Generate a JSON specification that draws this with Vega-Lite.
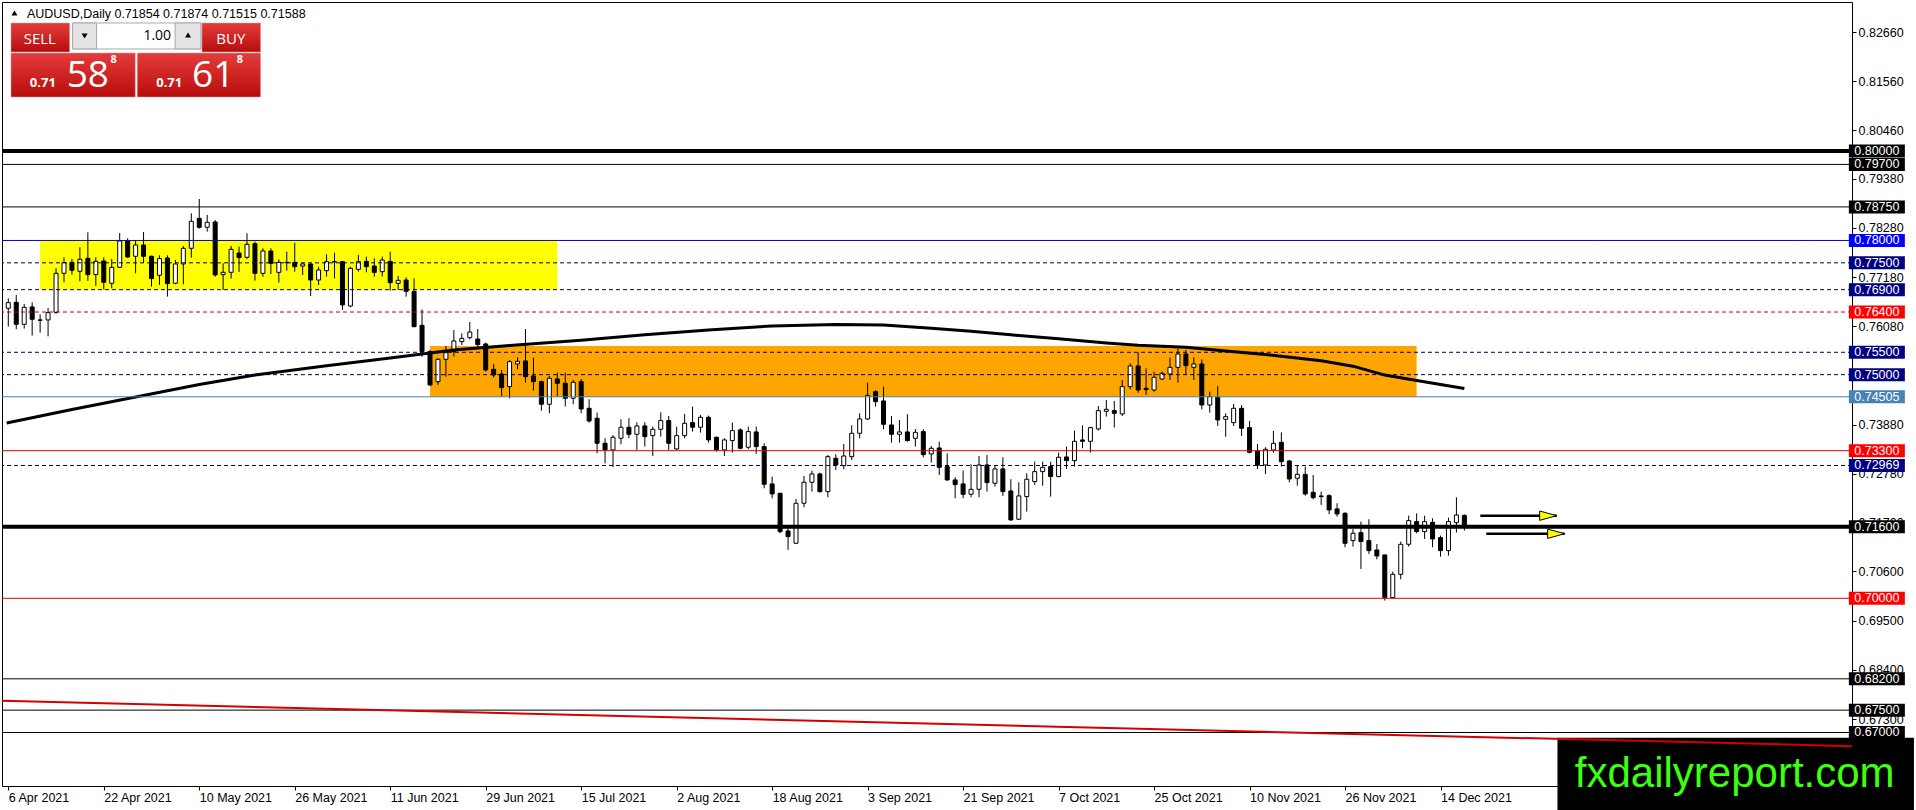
{
  "$schema": "https://vega.github.io/schema/vega-lite/v6.json",
  "width": 1850,
  "height": 784,
  "autosize": {"type": "none"},
  "padding": {"left": 2, "top": 2, "right": 64, "bottom": 24},
  "background": "white",
  "config": {
    "view": {"stroke": "black", "strokeWidth": 1},
    "axis": {"labelFont": "Liberation Sans", "labelFontSize": 12.5, "labelColor": "black", "tickColor": "black", "tickSize": 4, "domain": false, "grid": false},
    "text": {"font": "Liberation Sans"}
  },
  "datasets": {
    "candles": [
      {"i":0,"o":0.76484,"h":0.76707,"l":0.76074,"c":0.7661},
      {"i":1,"o":0.76618,"h":0.76782,"l":0.76014,"c":0.76126},
      {"i":2,"o":0.76126,"h":0.76581,"l":0.76029,"c":0.76506},
      {"i":3,"o":0.76514,"h":0.76618,"l":0.75873,"c":0.76238},
      {"i":4,"o":0.76223,"h":0.7635,"l":0.7594,"c":0.76216},
      {"i":5,"o":0.76223,"h":0.76491,"l":0.75858,"c":0.76387},
      {"i":6,"o":0.76394,"h":0.77378,"l":0.76357,"c":0.77266},
      {"i":7,"o":0.77266,"h":0.77624,"l":0.77065,"c":0.77504},
      {"i":8,"o":0.77512,"h":0.77586,"l":0.77236,"c":0.77333},
      {"i":9,"o":0.77311,"h":0.77847,"l":0.77087,"c":0.77579},
      {"i":10,"o":0.77601,"h":0.78182,"l":0.77095,"c":0.77236},
      {"i":11,"o":0.77236,"h":0.77624,"l":0.76983,"c":0.77534},
      {"i":12,"o":0.77542,"h":0.77624,"l":0.76908,"c":0.77065},
      {"i":13,"o":0.77043,"h":0.77586,"l":0.76931,"c":0.774},
      {"i":14,"o":0.774,"h":0.78167,"l":0.7739,"c":0.77989},
      {"i":15,"o":0.77989,"h":0.78048,"l":0.77609,"c":0.77631},
      {"i":16,"o":0.77646,"h":0.77996,"l":0.77266,"c":0.77899},
      {"i":17,"o":0.77899,"h":0.7819,"l":0.77504,"c":0.77646},
      {"i":18,"o":0.77646,"h":0.7766,"l":0.76968,"c":0.77147},
      {"i":19,"o":0.77221,"h":0.77668,"l":0.77005,"c":0.77594},
      {"i":20,"o":0.77609,"h":0.77668,"l":0.76745,"c":0.77035},
      {"i":21,"o":0.77043,"h":0.77564,"l":0.7702,"c":0.77475},
      {"i":22,"o":0.77475,"h":0.77877,"l":0.7702,"c":0.77825},
      {"i":23,"o":0.77825,"h":0.78607,"l":0.77616,"c":0.78428},
      {"i":24,"o":0.78495,"h":0.78927,"l":0.78264,"c":0.78294},
      {"i":25,"o":0.78294,"h":0.7857,"l":0.78197,"c":0.78406},
      {"i":26,"o":0.78413,"h":0.78458,"l":0.77192,"c":0.77229},
      {"i":27,"o":0.77236,"h":0.7749,"l":0.76893,"c":0.77288},
      {"i":28,"o":0.77288,"h":0.77877,"l":0.77147,"c":0.77802},
      {"i":29,"o":0.7772,"h":0.77862,"l":0.77296,"c":0.77616},
      {"i":30,"o":0.77624,"h":0.7816,"l":0.77586,"c":0.77914},
      {"i":31,"o":0.77929,"h":0.77974,"l":0.77102,"c":0.77266},
      {"i":32,"o":0.77265,"h":0.77824,"l":0.77191,"c":0.77765},
      {"i":33,"o":0.77764,"h":0.77824,"l":0.7725,"c":0.77489},
      {"i":34,"o":0.77287,"h":0.77578,"l":0.77056,"c":0.77511},
      {"i":35,"o":0.77503,"h":0.77749,"l":0.77325,"c":0.77511},
      {"i":36,"o":0.77511,"h":0.7795,"l":0.77302,"c":0.77414},
      {"i":37,"o":0.77429,"h":0.77503,"l":0.77228,"c":0.77474},
      {"i":38,"o":0.77474,"h":0.77489,"l":0.76758,"c":0.77116},
      {"i":39,"o":0.77116,"h":0.77414,"l":0.77004,"c":0.7734},
      {"i":40,"o":0.77325,"h":0.7769,"l":0.77191,"c":0.77526},
      {"i":41,"o":0.77526,"h":0.77727,"l":0.77153,"c":0.7752},
      {"i":42,"o":0.77526,"h":0.77541,"l":0.76445,"c":0.76559},
      {"i":43,"o":0.76535,"h":0.77414,"l":0.76505,"c":0.77377},
      {"i":44,"o":0.77354,"h":0.77675,"l":0.77302,"c":0.77526},
      {"i":45,"o":0.77533,"h":0.77638,"l":0.77287,"c":0.77414},
      {"i":46,"o":0.77429,"h":0.776,"l":0.77191,"c":0.77287},
      {"i":47,"o":0.77302,"h":0.77638,"l":0.77191,"c":0.77563},
      {"i":48,"o":0.77533,"h":0.77749,"l":0.76878,"c":0.77056},
      {"i":49,"o":0.77042,"h":0.77206,"l":0.76893,"c":0.77109},
      {"i":50,"o":0.77116,"h":0.77176,"l":0.76744,"c":0.76863},
      {"i":51,"o":0.76863,"h":0.77153,"l":0.7606,"c":0.76073},
      {"i":52,"o":0.76103,"h":0.7646,"l":0.75402,"c":0.75514},
      {"i":53,"o":0.75514,"h":0.75552,"l":0.74754,"c":0.74769},
      {"i":54,"o":0.74844,"h":0.75365,"l":0.74769,"c":0.75343},
      {"i":55,"o":0.75343,"h":0.75641,"l":0.74956,"c":0.75492},
      {"i":56,"o":0.75514,"h":0.75999,"l":0.75402,"c":0.75753},
      {"i":57,"o":0.75738,"h":0.75924,"l":0.75663,"c":0.75812},
      {"i":58,"o":0.75827,"h":0.76177,"l":0.7579,"c":0.75954},
      {"i":59,"o":0.75797,"h":0.76021,"l":0.75566,"c":0.75671},
      {"i":60,"o":0.75686,"h":0.75716,"l":0.75067,"c":0.75105},
      {"i":61,"o":0.75119,"h":0.75239,"l":0.74941,"c":0.74993},
      {"i":62,"o":0.75015,"h":0.75105,"l":0.74509,"c":0.7471},
      {"i":63,"o":0.74732,"h":0.75328,"l":0.74471,"c":0.75291},
      {"i":64,"o":0.75239,"h":0.75388,"l":0.7512,"c":0.75299},
      {"i":65,"o":0.75306,"h":0.76021,"l":0.74822,"c":0.74956},
      {"i":66,"o":0.74971,"h":0.75381,"l":0.74643,"c":0.74844},
      {"i":67,"o":0.74844,"h":0.74867,"l":0.74196,"c":0.74338},
      {"i":68,"o":0.74338,"h":0.74971,"l":0.74137,"c":0.74919},
      {"i":69,"o":0.74904,"h":0.75045,"l":0.74509,"c":0.74807},
      {"i":70,"o":0.74807,"h":0.75045,"l":0.74286,"c":0.74472},
      {"i":71,"o":0.74472,"h":0.74882,"l":0.74338,"c":0.74829},
      {"i":72,"o":0.74844,"h":0.74904,"l":0.74137,"c":0.74233},
      {"i":73,"o":0.74248,"h":0.74449,"l":0.73928,"c":0.73965},
      {"i":74,"o":0.74025,"h":0.74151,"l":0.73243,"c":0.73466},
      {"i":75,"o":0.73466,"h":0.73578,"l":0.73019,"c":0.73317},
      {"i":76,"o":0.73317,"h":0.73652,"l":0.7293,"c":0.736},
      {"i":77,"o":0.73578,"h":0.74003,"l":0.73444,"c":0.73824},
      {"i":78,"o":0.73824,"h":0.74025,"l":0.73578,"c":0.73667},
      {"i":79,"o":0.73667,"h":0.73936,"l":0.73317,"c":0.73854},
      {"i":80,"o":0.73854,"h":0.73936,"l":0.73392,"c":0.73615},
      {"i":81,"o":0.73637,"h":0.73839,"l":0.73183,"c":0.73779},
      {"i":82,"o":0.73779,"h":0.74159,"l":0.73615,"c":0.73973},
      {"i":83,"o":0.73973,"h":0.74077,"l":0.73317,"c":0.73466},
      {"i":84,"o":0.73339,"h":0.73839,"l":0.73317,"c":0.73637},
      {"i":85,"o":0.73637,"h":0.74122,"l":0.73578,"c":0.73913},
      {"i":86,"o":0.73928,"h":0.74286,"l":0.73727,"c":0.73824},
      {"i":87,"o":0.73824,"h":0.74099,"l":0.73705,"c":0.74047},
      {"i":88,"o":0.74047,"h":0.74085,"l":0.73481,"c":0.73541},
      {"i":89,"o":0.736,"h":0.73615,"l":0.7328,"c":0.73317},
      {"i":90,"o":0.73317,"h":0.73578,"l":0.73183,"c":0.73541},
      {"i":91,"o":0.73526,"h":0.73928,"l":0.73258,"c":0.73749},
      {"i":92,"o":0.73764,"h":0.73801,"l":0.73332,"c":0.73354},
      {"i":93,"o":0.73377,"h":0.73839,"l":0.73332,"c":0.73727},
      {"i":94,"o":0.73719,"h":0.73839,"l":0.73228,"c":0.73392},
      {"i":95,"o":0.73392,"h":0.73466,"l":0.7246,"c":0.7255},
      {"i":96,"o":0.72557,"h":0.72721,"l":0.72236,"c":0.72333},
      {"i":97,"o":0.72348,"h":0.7236,"l":0.71454,"c":0.71491},
      {"i":98,"o":0.71506,"h":0.71603,"l":0.71082,"c":0.7138},
      {"i":99,"o":0.71231,"h":0.72221,"l":0.7122,"c":0.72125},
      {"i":100,"o":0.72125,"h":0.72735,"l":0.72035,"c":0.72594},
      {"i":101,"o":0.72594,"h":0.72855,"l":0.72385,"c":0.7278},
      {"i":102,"o":0.7278,"h":0.7281,"l":0.72363,"c":0.72385},
      {"i":103,"o":0.72385,"h":0.73205,"l":0.72259,"c":0.73167},
      {"i":104,"o":0.7313,"h":0.7322,"l":0.7287,"c":0.72981},
      {"i":105,"o":0.72966,"h":0.73451,"l":0.72885,"c":0.73182},
      {"i":106,"o":0.73167,"h":0.73868,"l":0.73093,"c":0.73689},
      {"i":107,"o":0.73689,"h":0.74136,"l":0.73577,"c":0.74009},
      {"i":108,"o":0.74009,"h":0.74821,"l":0.73987,"c":0.74538},
      {"i":109,"o":0.7462,"h":0.74657,"l":0.74285,"c":0.74397},
      {"i":110,"o":0.74412,"h":0.74732,"l":0.73779,"c":0.7389},
      {"i":111,"o":0.73875,"h":0.74077,"l":0.7348,"c":0.73667},
      {"i":112,"o":0.73667,"h":0.73987,"l":0.7348,"c":0.73719},
      {"i":113,"o":0.73719,"h":0.74114,"l":0.73503,"c":0.73525},
      {"i":114,"o":0.73577,"h":0.73786,"l":0.73391,"c":0.73711},
      {"i":115,"o":0.73726,"h":0.73779,"l":0.73153,"c":0.73212},
      {"i":116,"o":0.73227,"h":0.73406,"l":0.73033,"c":0.73354},
      {"i":117,"o":0.73361,"h":0.73503,"l":0.72758,"c":0.72929},
      {"i":118,"o":0.72944,"h":0.73242,"l":0.72631,"c":0.72646},
      {"i":119,"o":0.72646,"h":0.72706,"l":0.72236,"c":0.72542},
      {"i":120,"o":0.72557,"h":0.72855,"l":0.72236,"c":0.72326},
      {"i":121,"o":0.72326,"h":0.72996,"l":0.72259,"c":0.72437},
      {"i":122,"o":0.72437,"h":0.73182,"l":0.72259,"c":0.72981},
      {"i":123,"o":0.72981,"h":0.73205,"l":0.72385,"c":0.72586},
      {"i":124,"o":0.72572,"h":0.72966,"l":0.72497,"c":0.72892},
      {"i":125,"o":0.72892,"h":0.73153,"l":0.72289,"c":0.72385},
      {"i":126,"o":0.724,"h":0.72661,"l":0.7173,"c":0.71752},
      {"i":127,"o":0.71767,"h":0.72594,"l":0.71752,"c":0.72289},
      {"i":128,"o":0.72274,"h":0.72795,"l":0.71938,"c":0.72661},
      {"i":129,"o":0.72609,"h":0.73056,"l":0.72534,"c":0.72832},
      {"i":130,"o":0.72832,"h":0.73056,"l":0.72519,"c":0.72929},
      {"i":131,"o":0.72944,"h":0.73056,"l":0.72273,"c":0.72721},
      {"i":132,"o":0.72721,"h":0.73257,"l":0.72706,"c":0.73153},
      {"i":133,"o":0.7316,"h":0.73391,"l":0.72892,"c":0.73078},
      {"i":134,"o":0.73078,"h":0.73749,"l":0.72944,"c":0.7351},
      {"i":135,"o":0.7354,"h":0.73868,"l":0.73354,"c":0.7351},
      {"i":136,"o":0.7351,"h":0.73838,"l":0.73257,"c":0.73816},
      {"i":137,"o":0.73786,"h":0.743,"l":0.73749,"c":0.74196},
      {"i":138,"o":0.74181,"h":0.74434,"l":0.74062,"c":0.74225},
      {"i":139,"o":0.74196,"h":0.74412,"l":0.73816,"c":0.74136},
      {"i":140,"o":0.74121,"h":0.74881,"l":0.74076,"c":0.74732},
      {"i":141,"o":0.74732,"h":0.75254,"l":0.74672,"c":0.75194},
      {"i":142,"o":0.75194,"h":0.75499,"l":0.74598,"c":0.74657},
      {"i":143,"o":0.74695,"h":0.75142,"l":0.74546,"c":0.74665},
      {"i":144,"o":0.74657,"h":0.75067,"l":0.7462,"c":0.74941},
      {"i":145,"o":0.74903,"h":0.75067,"l":0.74881,"c":0.7503},
      {"i":146,"o":0.75015,"h":0.7538,"l":0.74881,"c":0.75164},
      {"i":147,"o":0.75164,"h":0.75589,"l":0.74821,"c":0.75462},
      {"i":148,"o":0.75462,"h":0.75552,"l":0.74993,"c":0.75201},
      {"i":149,"o":0.75164,"h":0.75388,"l":0.74881,"c":0.75239},
      {"i":150,"o":0.75239,"h":0.75343,"l":0.74225,"c":0.74322},
      {"i":151,"o":0.74322,"h":0.7462,"l":0.74151,"c":0.74508},
      {"i":152,"o":0.74494,"h":0.74747,"l":0.73853,"c":0.73987},
      {"i":153,"o":0.74002,"h":0.74136,"l":0.73614,"c":0.74062},
      {"i":154,"o":0.73927,"h":0.74345,"l":0.73853,"c":0.74248},
      {"i":155,"o":0.74248,"h":0.74322,"l":0.73629,"c":0.73801},
      {"i":156,"o":0.73816,"h":0.73965,"l":0.73242,"c":0.73264},
      {"i":157,"o":0.73294,"h":0.73451,"l":0.72892,"c":0.72975},
      {"i":158,"o":0.72981,"h":0.73376,"l":0.7278,"c":0.73331},
      {"i":159,"o":0.73316,"h":0.73741,"l":0.73256,"c":0.73465},
      {"i":160,"o":0.73487,"h":0.73711,"l":0.72944,"c":0.73055},
      {"i":161,"o":0.7307,"h":0.73093,"l":0.72593,"c":0.72668},
      {"i":162,"o":0.72683,"h":0.72958,"l":0.72519,"c":0.72772},
      {"i":163,"o":0.72772,"h":0.72944,"l":0.72295,"c":0.72333},
      {"i":164,"o":0.7237,"h":0.72757,"l":0.72213,"c":0.72251},
      {"i":165,"o":0.72288,"h":0.72385,"l":0.72087,"c":0.72273},
      {"i":166,"o":0.72295,"h":0.72325,"l":0.71878,"c":0.71975},
      {"i":167,"o":0.71998,"h":0.72124,"l":0.71826,"c":0.71886},
      {"i":168,"o":0.71901,"h":0.71923,"l":0.71141,"c":0.7123},
      {"i":169,"o":0.7129,"h":0.7155,"l":0.71156,"c":0.71454},
      {"i":170,"o":0.71468,"h":0.71714,"l":0.70656,"c":0.71267},
      {"i":171,"o":0.7129,"h":0.71766,"l":0.70992,"c":0.71066},
      {"i":172,"o":0.71081,"h":0.71215,"l":0.70872,"c":0.70947},
      {"i":173,"o":0.70969,"h":0.70969,"l":0.69949,"c":0.70016},
      {"i":174,"o":0.70016,"h":0.70597,"l":0.69993,"c":0.70537},
      {"i":175,"o":0.70537,"h":0.71267,"l":0.70425,"c":0.71208},
      {"i":176,"o":0.71208,"h":0.71848,"l":0.71156,"c":0.71737},
      {"i":177,"o":0.71714,"h":0.719,"l":0.71454,"c":0.71491},
      {"i":178,"o":0.71491,"h":0.71848,"l":0.71327,"c":0.71714},
      {"i":179,"o":0.71699,"h":0.71789,"l":0.71141,"c":0.71327},
      {"i":180,"o":0.71357,"h":0.71402,"l":0.70932,"c":0.71066},
      {"i":181,"o":0.71066,"h":0.71804,"l":0.70954,"c":0.71714},
      {"i":182,"o":0.71691,"h":0.72258,"l":0.71468,"c":0.71863},
      {"i":183,"o":0.71854,"h":0.71874,"l":0.71515,"c":0.71588}
    ],
    "levels": [
      {"p":0.8,"k":"thick"},
      {"p":0.797,"k":"thin"},
      {"p":0.7875,"k":"thin"},
      {"p":0.78,"k":"blue"},
      {"p":0.775,"k":"dash"},
      {"p":0.769,"k":"dash"},
      {"p":0.764,"k":"reddash"},
      {"p":0.755,"k":"dash"},
      {"p":0.75,"k":"dash"},
      {"p":0.74505,"k":"steel"},
      {"p":0.733,"k":"red"},
      {"p":0.72969,"k":"dash"},
      {"p":0.716,"k":"thick"},
      {"p":0.7,"k":"red"},
      {"p":0.682,"k":"thin"},
      {"p":0.675,"k":"thin"},
      {"p":0.67,"k":"thin"}
    ],
    "zones": [
      {"z":"yellow","x1":4,"x2":69,"p1":0.769,"p2":0.78},
      {"z":"orange","x1":53,"x2":177,"p1":0.74505,"p2":0.7564}
    ],
    "ma": [
      {"i":-0.2,"p":0.7392},{"i":8,"p":0.7422},{"i":16,"p":0.745},{"i":24,"p":0.7478},
      {"i":31,"p":0.7499},{"i":40,"p":0.752},{"i":48,"p":0.7537},{"i":56,"p":0.7555},
      {"i":63,"p":0.7565},{"i":72,"p":0.7577},{"i":80,"p":0.7589},{"i":88,"p":0.76},
      {"i":96,"p":0.7609},{"i":104,"p":0.7612},{"i":110,"p":0.7611},{"i":116,"p":0.7604},
      {"i":121,"p":0.7597},{"i":126,"p":0.7589},{"i":132,"p":0.758},{"i":138,"p":0.7571},
      {"i":142,"p":0.7566},{"i":148,"p":0.7561},{"i":153,"p":0.7553},{"i":158,"p":0.7545},
      {"i":165,"p":0.7531},{"i":169,"p":0.7519},{"i":173,"p":0.7499},{"i":177,"p":0.7487},
      {"i":183,"p":0.7469}
    ],
    "trend": [{"i":-1,"p":0.67708},{"i":232,"p":0.66694}],
    "arrows": [
      {"x1":185,"x2":194.6,"p":0.71847},
      {"x1":185.75,"x2":195.6,"p":0.71444}
    ],
    "panelRed": [
      {"x1":0.34,"x2":7.71,"p1":0.82862,"p2":0.82213},
      {"x1":24.34,"x2":31.71,"p1":0.82862,"p2":0.82213},
      {"x1":0.34,"x2":15.96,"p1":0.82191,"p2":0.81207},
      {"x1":16.21,"x2":31.71,"p1":0.82191,"p2":0.81207}
    ],
    "spinBox": [{"x1":8.09,"x2":24.21,"p1":0.82862,"p2":0.82281}],
    "spinBtn": [
      {"x1":8.09,"x2":11.09,"p1":0.82862,"p2":0.82281},
      {"x1":20.96,"x2":24.21,"p1":0.82862,"p2":0.82281}
    ],
    "tri": [
      {"x":9.59,"p":0.82571,"s":"down"},
      {"x":22.59,"p":0.82593,"s":"up"},
      {"x":0.775,"p":0.83085,"s":"up"}
    ],
    "buttons": [
      {"x":3.96,"p":0.82504,"t":"SELL"},
      {"x":27.96,"p":0.82504,"t":"BUY"}
    ],
    "lot": [{"x":20.46,"p":0.82571,"t":"1.00"}],
    "priceSmall": [
      {"x":2.71,"p":0.81431,"t":"0.71"},
      {"x":18.59,"p":0.81431,"t":"0.71"}
    ],
    "priceBig": [
      {"x":7.34,"p":0.81431,"t":"58"},
      {"x":23.09,"p":0.81431,"t":"61"}
    ],
    "priceSup": [
      {"x":12.84,"p":0.81967,"t":"8"},
      {"x":28.71,"p":0.81967,"t":"8"}
    ],
    "header": [{"x":2.34,"p":0.83063,"t":"AUDUSD,Daily  0.71854 0.71874 0.71515 0.71588"}],
    "stamp": [{"x1":194.7,"x2":239.5,"p1":0.66884,"p2":0.65}],
    "stampText": [{"x":216.97,"p":0.65788,"t":"fxdailyreport.com"}]
  },
  "layer": [
    {
      "data": {"name": "zones"},
      "mark": {"type": "rect", "clip": true},
      "encoding": {
        "x": {
          "field": "x1", "type": "quantitative",
          "scale": {"domain": [-0.1625, 231.0875], "nice": false, "zero": false},
          "axis": {
            "orient": "bottom", "title": null,
            "values": [0, 12, 24, 36, 48, 60, 72, 84, 96, 108, 120, 132, 144, 156, 168, 180],
            "labelExpr": "['6 Apr 2021','22 Apr 2021','10 May 2021','26 May 2021','11 Jun 2021','29 Jun 2021','15 Jul 2021','2 Aug 2021','18 Aug 2021','3 Sep 2021','21 Sep 2021','7 Oct 2021','25 Oct 2021','10 Nov 2021','26 Nov 2021','14 Dec 2021'][round(datum.value / 12)]",
            "labelAlign": "left", "labelBaseline": "top", "labelPadding": 1,
            "labelFlush": false, "labelOverlap": false
          }
        },
        "x2": {"field": "x2"},
        "y": {
          "field": "p1", "type": "quantitative",
          "scale": {"domain": [0.658038, 0.833311], "nice": false, "zero": false},
          "axis": {
            "orient": "right", "title": null,
            "values": [0.8266, 0.8156, 0.8046, 0.7938, 0.7828, 0.7718, 0.7608, 0.7498, 0.7388, 0.7278, 0.717, 0.706, 0.695, 0.684, 0.673, 0.662],
            "format": ".5f", "labelPadding": 2, "labelAlign": "left", "labelBaseline": "middle",
            "labelFlush": false, "labelOverlap": false
          }
        },
        "y2": {"field": "p2"},
        "fill": {"condition": {"test": "datum.z == 'yellow'", "value": "#ffff00"}, "value": "#ffa500"}
      }
    },
    {
      "data": {"name": "stamp"},
      "mark": {"type": "rect", "fill": "black"},
      "encoding": {
        "x": {"field": "x1", "type": "quantitative"},
        "x2": {"field": "x2"},
        "y": {"field": "p1", "type": "quantitative"},
        "y2": {"field": "p2"}
      }
    },
    {
      "data": {"name": "candles"},
      "mark": {"type": "rule", "color": "black", "strokeWidth": 1, "clip": true},
      "encoding": {
        "x": {"field": "i", "type": "quantitative"},
        "y": {"field": "l", "type": "quantitative"},
        "y2": {"field": "h"}
      }
    },
    {
      "data": {"name": "candles"},
      "mark": {"type": "bar", "size": 4, "stroke": "black", "strokeWidth": 1, "clip": true},
      "encoding": {
        "x": {"field": "i", "type": "quantitative"},
        "y": {"field": "o", "type": "quantitative"},
        "y2": {"field": "c"},
        "fill": {"condition": {"test": "datum.c >= datum.o", "value": "white"}, "value": "black"}
      }
    },
    {
      "data": {"name": "ma"},
      "mark": {"type": "line", "color": "black", "strokeWidth": 3, "clip": true},
      "encoding": {
        "x": {"field": "i", "type": "quantitative"},
        "y": {"field": "p", "type": "quantitative"}
      }
    },
    {
      "data": {"name": "levels"},
      "transform": [{"filter": "datum.k != 'thick'"}],
      "mark": {"type": "rule", "strokeWidth": 1},
      "encoding": {
        "y": {"field": "p", "type": "quantitative"},
        "stroke": {
          "field": "k", "type": "nominal", "legend": null,
          "scale": {"domain": ["thin", "blue", "dash", "reddash", "steel", "red"], "range": ["#000000", "#0000cc", "#00004a", "#d00000", "#4682b4", "#e00000"]}
        },
        "strokeDash": {
          "field": "k", "type": "nominal", "legend": null,
          "scale": {"domain": ["thin", "blue", "dash", "reddash", "steel", "red"], "range": [[1, 0], [1, 0], [4, 3], [4, 3], [1, 0], [1, 0]]}
        }
      }
    },
    {
      "data": {"name": "levels"},
      "transform": [{"filter": "datum.k == 'thick'"}],
      "mark": {"type": "rule", "strokeWidth": 4, "color": "black"},
      "encoding": {
        "y": {"field": "p", "type": "quantitative"}
      }
    },
    {
      "data": {"name": "trend"},
      "mark": {"type": "line", "color": "#d40000", "strokeWidth": 2, "clip": true},
      "encoding": {
        "x": {"field": "i", "type": "quantitative"},
        "y": {"field": "p", "type": "quantitative"}
      }
    },
    {
      "data": {"name": "arrows"},
      "mark": {"type": "rule", "color": "black", "strokeWidth": 2.5},
      "encoding": {
        "x": {"field": "x1", "type": "quantitative"},
        "x2": {"field": "x2"},
        "y": {"field": "p", "type": "quantitative"}
      }
    },
    {
      "data": {"name": "arrows"},
      "mark": {"type": "point", "shape": "M-2,-0.55L0,0L-2,0.55Z", "size": 289, "filled": true, "fill": "#ffff00", "stroke": "black", "strokeWidth": 1, "opacity": 1},
      "encoding": {
        "x": {"field": "x2", "type": "quantitative"},
        "y": {"field": "p", "type": "quantitative"}
      }
    },
    {
      "data": {"name": "panelRed"},
      "mark": {
        "type": "rect", "stroke": "#f2a0a0", "strokeWidth": 0.5,
        "fill": {"gradient": "linear", "x1": 0, "y1": 0, "x2": 0, "y2": 1, "stops": [{"offset": 0, "color": "#e43c3c"}, {"offset": 1, "color": "#b70c0c"}]}
      },
      "encoding": {
        "x": {"field": "x1", "type": "quantitative"},
        "x2": {"field": "x2"},
        "y": {"field": "p1", "type": "quantitative"},
        "y2": {"field": "p2"}
      }
    },
    {
      "data": {"name": "spinBox"},
      "mark": {"type": "rect", "fill": "white", "stroke": "#a9a9a9", "strokeWidth": 1},
      "encoding": {
        "x": {"field": "x1", "type": "quantitative"},
        "x2": {"field": "x2"},
        "y": {"field": "p1", "type": "quantitative"},
        "y2": {"field": "p2"}
      }
    },
    {
      "data": {"name": "spinBtn"},
      "mark": {"type": "rect", "fill": "#e3e3e3", "stroke": "#a9a9a9", "strokeWidth": 1},
      "encoding": {
        "x": {"field": "x1", "type": "quantitative"},
        "x2": {"field": "x2"},
        "y": {"field": "p1", "type": "quantitative"},
        "y2": {"field": "p2"}
      }
    },
    {
      "data": {"name": "tri"},
      "mark": {"type": "point", "filled": true, "color": "black", "size": 36, "opacity": 1},
      "encoding": {
        "x": {"field": "x", "type": "quantitative"},
        "y": {"field": "p", "type": "quantitative"},
        "shape": {"field": "s", "type": "nominal", "legend": null, "scale": {"domain": ["down", "up"], "range": ["triangle-down", "triangle-up"]}}
      }
    },
    {
      "data": {"name": "buttons"},
      "mark": {"type": "text", "font": "Open Sans", "fontSize": 15, "color": "white", "align": "center", "baseline": "middle"},
      "encoding": {
        "x": {"field": "x", "type": "quantitative"},
        "y": {"field": "p", "type": "quantitative"},
        "text": {"field": "t"}
      }
    },
    {
      "data": {"name": "lot"},
      "mark": {"type": "text", "font": "Open Sans", "fontSize": 14, "color": "black", "align": "right", "baseline": "middle"},
      "encoding": {
        "x": {"field": "x", "type": "quantitative"},
        "y": {"field": "p", "type": "quantitative"},
        "text": {"field": "t"}
      }
    },
    {
      "data": {"name": "priceSmall"},
      "mark": {"type": "text", "font": "Open Sans", "fontSize": 13, "fontWeight": "bold", "color": "white", "align": "left", "baseline": "alphabetic"},
      "encoding": {
        "x": {"field": "x", "type": "quantitative"},
        "y": {"field": "p", "type": "quantitative"},
        "text": {"field": "t"}
      }
    },
    {
      "data": {"name": "priceBig"},
      "mark": {"type": "text", "font": "Open Sans", "fontSize": 37, "color": "white", "align": "left", "baseline": "alphabetic"},
      "encoding": {
        "x": {"field": "x", "type": "quantitative"},
        "y": {"field": "p", "type": "quantitative"},
        "text": {"field": "t"}
      }
    },
    {
      "data": {"name": "priceSup"},
      "mark": {"type": "text", "font": "Open Sans", "fontSize": 11, "fontWeight": "bold", "color": "white", "align": "left", "baseline": "alphabetic"},
      "encoding": {
        "x": {"field": "x", "type": "quantitative"},
        "y": {"field": "p", "type": "quantitative"},
        "text": {"field": "t"}
      }
    },
    {
      "data": {"name": "header"},
      "mark": {"type": "text", "font": "Liberation Sans", "fontSize": 12.5, "color": "black", "align": "left", "baseline": "middle"},
      "encoding": {
        "x": {"field": "x", "type": "quantitative"},
        "y": {"field": "p", "type": "quantitative"},
        "text": {"field": "t"}
      }
    },
    {
      "data": {"name": "levels"},
      "mark": {"type": "tick", "orient": "horizontal", "size": 56, "thickness": 13, "filled": true, "opacity": 1},
      "encoding": {
        "x": {"datum": 234.84},
        "y": {"field": "p", "type": "quantitative"},
        "fill": {
          "field": "k", "type": "nominal", "legend": null,
          "scale": {"domain": ["thick", "thin", "blue", "dash", "reddash", "steel", "red"], "range": ["#000000", "#000000", "#0000ff", "#000080", "#ff0000", "#4682b4", "#ff0000"]}
        }
      }
    },
    {
      "data": {"name": "levels"},
      "mark": {"type": "text", "font": "Liberation Sans", "fontSize": 12.5, "color": "white", "align": "center", "baseline": "middle"},
      "encoding": {
        "x": {"datum": 234.84},
        "y": {"field": "p", "type": "quantitative"},
        "text": {"field": "p", "type": "quantitative", "format": ".5f"}
      }
    },
    {
      "data": {"name": "stampText"},
      "mark": {"type": "text", "font": "Liberation Sans", "fontSize": 42, "color": "#3dff12", "align": "center", "baseline": "alphabetic"},
      "encoding": {
        "x": {"field": "x", "type": "quantitative"},
        "y": {"field": "p", "type": "quantitative"},
        "text": {"field": "t"}
      }
    }
  ]
}
